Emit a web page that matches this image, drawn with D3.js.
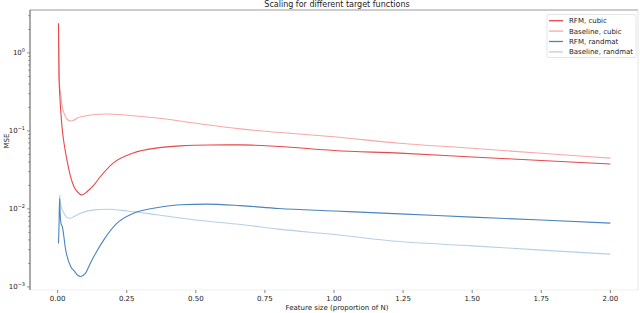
<!DOCTYPE html>
<html>
<head>
<meta charset="utf-8">
<script src="https://cdn.jsdelivr.net/npm/d3@7"></script>
<style>
  body { margin: 0; background: #fff; }
  text { font-family: "DejaVu Sans", sans-serif; fill: #222; }
</style>
</head>
<body>
<svg id="chart" width="640" height="313"></svg>
<script>
// data: [feature size, MSE]
const rfmCubic = [
  [0.003, 2.4], [0.005, 0.5], [0.008, 0.28], [0.011, 0.186], [0.016, 0.11],
  [0.023, 0.070], [0.035, 0.040], [0.047, 0.0257], [0.06, 0.019], [0.071, 0.0167],
  [0.089, 0.0151], [0.107, 0.0167], [0.13, 0.020], [0.155, 0.026], [0.202, 0.0389],
  [0.274, 0.0522], [0.361, 0.0605], [0.444, 0.0643], [0.55, 0.066], [0.661, 0.0662],
  [0.8, 0.063], [1.0, 0.0561], [1.238, 0.0518], [1.5, 0.0463], [1.75, 0.0418], [2.0, 0.0377]
];
const baselineCubic = [
  [0.003, 2.3], [0.005, 0.6], [0.008, 0.35], [0.011, 0.30], [0.016, 0.21],
  [0.023, 0.169], [0.035, 0.140], [0.047, 0.134], [0.06, 0.138], [0.071, 0.146],
  [0.09, 0.153], [0.119, 0.160], [0.179, 0.165], [0.252, 0.159], [0.36, 0.146],
  [0.48, 0.128], [0.661, 0.106], [1.0, 0.084], [1.238, 0.0695], [1.5, 0.0598],
  [1.75, 0.0516], [2.0, 0.0447]
];
const rfmRandmat = [
  [0.003, 0.0036], [0.005, 0.006], [0.007, 0.0137], [0.009, 0.009], [0.012, 0.0065],
  [0.017, 0.0059], [0.029, 0.0030], [0.047, 0.00182], [0.06, 0.0016], [0.071, 0.00143],
  [0.083, 0.00136], [0.101, 0.0015], [0.115, 0.0019], [0.131, 0.00245], [0.167, 0.00401],
  [0.215, 0.00656], [0.275, 0.00881], [0.347, 0.0102], [0.444, 0.0113], [0.54, 0.0115],
  [0.661, 0.011], [0.8, 0.0101], [1.0, 0.0094], [1.238, 0.00863], [1.5, 0.00785],
  [1.75, 0.0072], [2.0, 0.00656]
];
const baselineRandmat = [
  [0.007, 0.0151], [0.012, 0.011], [0.023, 0.0088], [0.035, 0.0077], [0.047, 0.0076],
  [0.06, 0.008], [0.083, 0.0088], [0.131, 0.0097], [0.179, 0.0099], [0.252, 0.0094],
  [0.36, 0.0084], [0.5, 0.0072], [0.661, 0.0063], [0.8, 0.0055], [1.0, 0.0047],
  [1.238, 0.00381], [1.5, 0.00336], [1.75, 0.00296], [2.0, 0.00263]
];
const seriesNames = ["RFM, cubic", "Baseline, cubic", "RFM, randmat", "Baseline, randmat"];
const seriesColors = ["#e8474a", "#f7a8a8", "#4b84bd", "#b6cfe8"];
const xTicks = [0, 0.25, 0.5, 0.75, 1.0, 1.25, 1.5, 1.75, 2.0];
const yTicks = [1e-3, 1e-2, 1e-1, 1e0];

(function () {
  const svg = d3.select("#chart");
  const left = 30, right = 638, top = 10, bottom = 290;

  const x = d3.scaleLinear().domain([-0.1, 2.1]).range([left, right]);
  const y = d3.scaleLog().domain([Math.pow(10, -3.04), Math.pow(10, 0.55)]).range([bottom, top]);

  // frame
  svg.append("line").attr("x1", left).attr("x2", right).attr("y1", top).attr("y2", top)
    .attr("stroke", "#999").attr("stroke-width", 1.2);
  svg.append("line").attr("x1", right).attr("x2", right).attr("y1", top).attr("y2", bottom)
    .attr("stroke", "#e6e6e6");
  svg.append("line").attr("x1", left).attr("x2", right).attr("y1", bottom).attr("y2", bottom)
    .attr("stroke", "#f0f0f0");
  svg.append("line").attr("x1", left).attr("x2", left).attr("y1", top).attr("y2", bottom)
    .attr("stroke", "#555").attr("stroke-width", 1);

  // x axis
  const xg = svg.append("g");
  xTicks.forEach(t => {
    xg.append("line").attr("x1", x(t)).attr("x2", x(t)).attr("y1", bottom).attr("y2", bottom + 3)
      .attr("stroke", "#666").attr("stroke-width", 0.8);
    xg.append("text").attr("x", x(t)).attr("y", bottom + 11).attr("text-anchor", "middle")
      .attr("font-size", 7).text(d3.format(".2f")(t));
  });
  svg.append("text").attr("x", (left + right) / 2 + 3).attr("y", bottom + 20).attr("text-anchor", "middle")
    .attr("font-size", 7).text("Feature size (proportion of N)");

  // y axis, log with minor ticks
  const yg = svg.append("g");
  for (let e = -3; e <= 0; e++) {
    for (let m = 1; m <= 9; m++) {
      const v = m * Math.pow(10, e);
      if (v < y.domain()[0] || v > y.domain()[1]) continue;
      yg.append("line").attr("x1", left - (m === 1 ? 3 : 1.8)).attr("x2", left)
        .attr("y1", y(v)).attr("y2", y(v)).attr("stroke", "#666").attr("stroke-width", 0.7);
    }
  }
  yTicks.forEach(t => {
    const e = Math.round(Math.log10(t));
    const lab = yg.append("text").attr("x", left - 5).attr("y", y(t) + 2.5)
      .attr("text-anchor", "end").attr("font-size", 7);
    lab.append("tspan").text("10");
    lab.append("tspan").attr("dy", -3).attr("font-size", 5).text(e === 0 ? "0" : "\u2212" + (-e));
  });
  svg.append("text").attr("transform", `translate(9,${(top + bottom) / 2 - 9}) rotate(-90)`)
    .attr("text-anchor", "middle").attr("font-size", 7).text("MSE");

  // title
  svg.append("text").attr("x", (left + right) / 2 + 3).attr("y", 7).attr("text-anchor", "middle")
    .attr("font-size", 8).text("Scaling for different target functions");

  // lines
  const line = d3.line().x(d => x(d[0])).y(d => y(d[1])).curve(d3.curveMonotoneX);
  const allSeries = [rfmCubic, baselineCubic, rfmRandmat, baselineRandmat];
  // baselines go under the rfm curves
  [1, 3, 0, 2].forEach(i => {
    svg.append("path").datum(allSeries[i]).attr("d", line)
      .attr("fill", "none").attr("stroke", seriesColors[i]).attr("stroke-width", 1.1);
  });

  // legend
  const lg = svg.append("g");
  lg.append("rect").attr("x", 547).attr("y", 14.5).attr("width", 89).attr("height", 43).attr("rx", 2)
    .attr("fill", "#fff").attr("fill-opacity", 0.8).attr("stroke", "#ddd").attr("stroke-width", 0.8);
  seriesNames.forEach((n, i) => {
    const yy = 20.7 + i * 10.4;
    lg.append("line").attr("x1", 549).attr("x2", 563).attr("y1", yy).attr("y2", yy)
      .attr("stroke", seriesColors[i]).attr("stroke-width", 1.3);
    lg.append("text").attr("x", 569).attr("y", yy + 2.5).attr("font-size", 7).text(n);
  });
})();
</script>
</body>
</html>
